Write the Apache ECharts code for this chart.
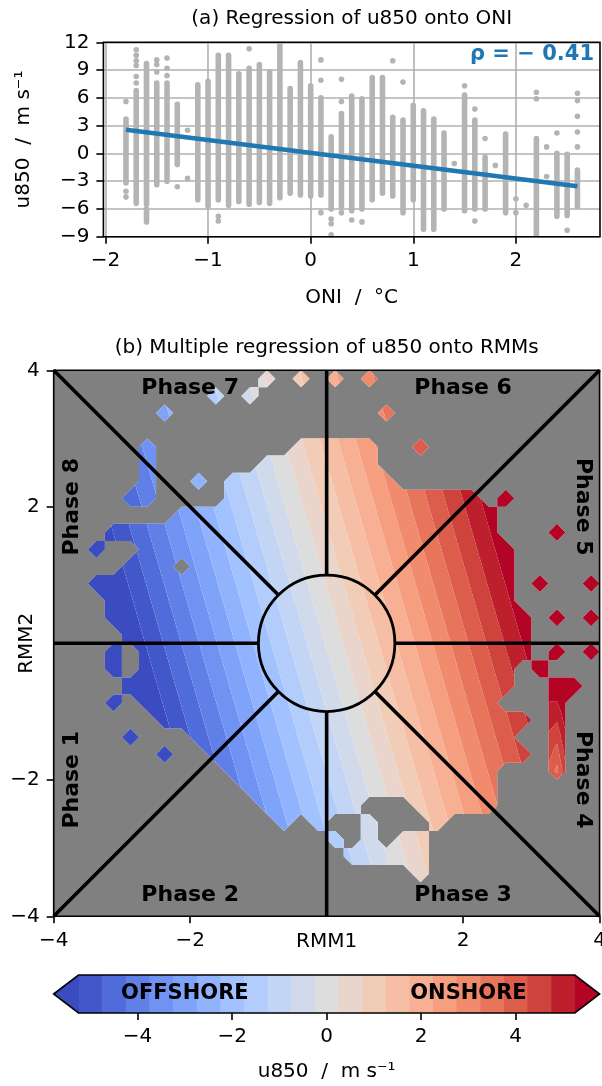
<!DOCTYPE html>
<html>
<head>
<meta charset="utf-8">
<title>u850 regressions</title>
<script src="https://cdn.jsdelivr.net/npm/echarts@6.0.0/dist/echarts.min.js"></script>
<style>
html, body { margin: 0; padding: 0; background: #fff; }
#main { width: 602px; height: 1086px; }
</style>
</head>
<body>
<div id="main"></div>
<script>
// ---- panel (a): u850 against ONI ----
var oniTicks = [-2, -1, 0, 1, 2];
var uTicks = [-9, -6, -3, 0, 3, 6, 9, 12];
// dense stacks of daily dots: [ONI, lowest u850, highest u850]
var oniStacks = [
    [-1.8, -3.2, 3.7], [-1.7, -5.4, 6.8], [-1.6, -5.5, 9.7], [-1.6, -7.4, -6.0],
    [-1.5, -3.4, 7.6], [-1.4, -3.0, 7.6], [-1.3, -1.2, 5.3], [-1.1, -5.0, 7.4],
    [-1.0, -5.7, 7.8], [-0.9, -5.0, 10.6], [-0.8, -5.6, 10.6], [-0.7, -5.2, 8.6],
    [-0.6, -5.5, 9.2], [-0.5, -5.3, 9.6], [-0.4, -5.4, 8.8], [-0.3, -4.8, 11.9],
    [-0.2, -4.3, 7.0], [-0.1, -4.5, 9.8], [0.0, -4.6, 7.3], [0.1, -4.5, 6.0],
    [0.2, -6.0, 1.8], [0.3, -5.8, 4.3], [0.4, -6.2, 6.2], [0.5, -6.0, 5.9],
    [0.6, -5.0, 8.2], [0.7, -4.3, 8.2], [0.8, -4.6, 3.9], [0.9, -6.4, 3.6],
    [1.0, -5.0, 5.2], [1.1, -8.2, 4.6], [1.2, -8.2, 3.7], [1.3, -6.0, 2.2],
    [1.5, -6.2, 6.3], [1.6, -6.0, 3.6], [1.7, -6.0, -0.4], [1.9, -6.4, 2.1],
    [2.2, -8.8, 1.6], [2.4, -6.8, 0.0], [2.5, -6.7, -0.1], [2.6, -5.7, -1.8]
];
// single dots away from the stacks: [ONI, u850]
var oniDots = [
    [-1.8, 5.6], [-1.8, -4.1], [-1.8, -4.7],
    [-1.7, 11.2], [-1.7, 10.6], [-1.7, 10.0], [-1.7, 9.5], [-1.7, 8.3], [-1.7, 7.6],
    [-1.5, 10.1], [-1.5, 9.6], [-1.5, 8.8], [-1.4, 10.3], [-1.4, 9.2], [-1.4, 8.4],
    [-1.3, -3.6], [-1.2, 2.5], [-1.2, -2.7], [-0.9, -6.8], [-0.9, -7.3], [-0.6, 11.3],
    [0.1, 10.1], [0.1, 7.9], [0.1, -6.4], [0.2, -7.1], [0.2, -7.6], [0.2, -8.8],
    [0.3, 8.0], [0.3, 5.6], [0.3, -6.4], [0.4, -7.2], [0.5, -7.4], [0.8, 10.0],
    [0.9, 7.7], [1.4, -1.1], [1.5, 7.3], [1.6, 4.8], [1.6, -7.3], [1.7, 1.6],
    [1.8, -1.3], [2.0, -4.9], [2.0, -6.4], [2.1, -5.6], [2.2, 6.6], [2.2, 5.9],
    [2.3, 0.7], [2.3, -2.5], [2.4, 2.2], [2.5, -8.3],
    [2.6, 6.5], [2.6, 5.7], [2.6, 4.0], [2.6, 2.3], [2.6, 0.7]
];
var oniFit = [[-1.8, 2.55], [2.6, -3.55]];
var oniRho = '\u03c1 = \u2212 0.41';

// ---- panel (b): u850 on the RMM phase space ----
var rmmTicks = [-4, -2, 2, 4];
var rmmCoef = [-0.2, 1.9, 0.55];       // intercept, RMM1, RMM2 (m s-1 per unit)
// bins with data, 0.25 wide, top row is RMM2 = 3.875, first column RMM1 = -3.875
var rmmMask = [
    '............#.#.#.#.............',
    '.........#.#....................',
    '......#............#............',
    '................................',
    '.....#........#####..#..........',
    '.....#......#######.............',
    '.....#..#.##########............',
    '....##....###############.#.....',
    '.......###################......',
    '...#######################...#..',
    '..#..######################.....',
    '....###.###################.....',
    '..#########################.#..#',
    '...########################.....',
    '...#########################.#.#',
    '....########################....',
    '...#.#######################.#.#',
    '...#.######################.#...',
    '....#######################..##.',
    '...#.#####################...#..',
    '......######################.#..',
    '....#...###################..#..',
    '......#..###################.#..',
    '..........################...#..',
    '...........###############......',
    '............######...#####......',
    '.............#.#..#...#.........',
    '................#.#.##..........',
    '.................#####..........',
    '.....................#..........',
    '................................',
    '................................'
];
// bins that depart from the plane: [column, row, u850]
var rmmFix = [[29, 18, 5.8], [30, 18, 6.0], [29, 19, 5.2], [29, 20, 4.8],
    [29, 21, 4.4], [29, 22, 4.0], [29, 23, 3.6]];
var u850Levels = [-5.25, -4.75, -4.25, -3.75, -3.25, -2.75, -2.25, -1.75, -1.25, -0.75, -0.25,
    0.25, 0.75, 1.25, 1.75, 2.25, 2.75, 3.25, 3.75, 4.25, 4.75, 5.25];
var cbarTicks = [-4, -2, 0, 2, 4];
var cbarWords = [[-3, 'OFFSHORE'], [3, 'ONSHORE']];
var phaseSpokes = [0, 45, 90, 135, 180, 225, 270, 315];
var phaseLabels = [
    [-2.0, 3.74, 'Phase 7', 0], [2.0, 3.74, 'Phase 6', 0],
    [-2.0, -3.69, 'Phase 2', 0], [2.0, -3.69, 'Phase 3', 0],
    [-3.73, 2.0, 'Phase 8', 90], [-3.73, -2.0, 'Phase 1', 90],
    [3.75, 2.0, 'Phase 5', -90], [3.75, -2.0, 'Phase 4', -90]
];

var FONT = 'DejaVu Sans';
var DOT = '#b4b4b4';

var coolwarmStops = [
    [59, 76, 192], [68, 90, 204], [77, 104, 215], [87, 117, 225], [98, 130, 234], [108, 142, 241],
    [119, 154, 247], [130, 165, 251], [141, 176, 254], [152, 185, 255], [163, 194, 255],
    [174, 201, 253], [184, 208, 249], [194, 213, 244], [204, 217, 238], [213, 219, 230],
    [221, 221, 221], [229, 216, 209], [236, 211, 197], [241, 204, 184], [245, 196, 172],
    [247, 187, 160], [247, 177, 148], [247, 166, 135], [244, 154, 123], [241, 141, 111],
    [236, 127, 99], [229, 112, 88], [222, 96, 77], [213, 80, 66], [203, 62, 56],
    [192, 40, 47], [180, 4, 38]
];

function coolwarm(t) {
    t = Math.max(0, Math.min(1, t));
    var f = t * 32, j = Math.min(31, Math.floor(f)), w = f - j;
    var a = coolwarmStops[j], b = coolwarmStops[j + 1];
    var c = [0, 1, 2].map(function (q) { return Math.round(a[q] + (b[q] - a[q]) * w); });
    return 'rgb(' + c.join(',') + ')';
}

// band 0 is below the first level, band n above the last
function bandColor(b) {
    var L = u850Levels, n = L.length;
    if (b <= 0) return coolwarm(0);
    if (b >= n) return coolwarm(1);
    var mid = (L[b - 1] + L[b]) / 2;
    return coolwarm((mid - L[0]) / (L[n - 1] - L[0]));
}

function minus(v) {
    return v < 0 ? '\u2212' + Math.abs(v) : String(v);
}

// keep the part of a polygon where f(vertex) >= 0 (all vertex fields are linear)
function clip(poly, f) {
    var out = [];
    for (var q = 0; q < poly.length; q++) {
        var p = poly[q], r = poly[(q + 1) % poly.length];
        var fp = f(p), fr = f(r);
        if (fp >= 0) out.push(p);
        if ((fp >= 0) !== (fr >= 0)) {
            var t = fp / (fp - fr);
            out.push(p.map(function (x, j) { return x + (r[j] - x) * t; }));
        }
    }
    return out;
}

function renderField(params, api) {
    var n = rmmMask.length, step = 8 / n;
    var L = u850Levels, nb = L.length + 1;
    var fix = {};
    rmmFix.forEach(function (f) { fix[f[0] + ',' + f[1]] = f[2]; });

    function node(i, k) {
        var r1 = -4 + step * (i + 0.5), r2 = 4 - step * (k + 0.5);
        var ok = i >= 0 && i < n && k >= 0 && k < n && rmmMask[k].charAt(i) === '#';
        var key = i + ',' + k;
        var v = (key in fix) ? fix[key] : rmmCoef[0] + rmmCoef[1] * r1 + rmmCoef[2] * r2;
        return [r1, r2, v, ok ? 1 : 0];
    }
    function toPath(poly) {
        var s = '';
        for (var q = 0; q < poly.length; q++) {
            var p = api.coord([poly[q][0], poly[q][1]]);
            s += (q ? 'L' : 'M') + p[0].toFixed(2) + ' ' + p[1].toFixed(2);
        }
        return s + 'Z';
    }
    function bandOf(v) {
        var b = 0;
        while (b < L.length && v >= L[b]) b++;
        return b;
    }

    var paths = [], under = '';
    for (var b = 0; b < nb; b++) paths.push('');

    for (var k = -1; k < n; k++) {
        for (var i = -1; i < n; i++) {
            var a = node(i, k), bb = node(i + 1, k), c = node(i + 1, k + 1), d = node(i, k + 1);
            var cnt = a[3] + bb[3] + c[3] + d[3];
            if (cnt === 0) continue;
            var e = [0, 1, 2].map(function (t) { return (a[t] + bb[t] + c[t] + d[t]) / 4; });
            // centre weight that gives marching-squares diamonds for lone bins
            e.push(Math.max(0, Math.min(1, (cnt - 1) / 2)));
            var edge = i === -1 || k === -1 || i === n - 1 || k === n - 1;
            [[a, bb], [bb, c], [c, d], [d, a]].forEach(function (pr) {
                var poly = clip([pr[0], pr[1], e], function (p) { return p[3] - 0.5; });
                if (poly.length < 3) return;
                if (edge) {
                    poly = clip(poly, function (p) { return p[0] + 4; });
                    poly = clip(poly, function (p) { return 4 - p[0]; });
                    poly = clip(poly, function (p) { return p[1] + 4; });
                    poly = clip(poly, function (p) { return 4 - p[1]; });
                    if (poly.length < 3) return;
                }
                under += toPath(poly);
                var vs = poly.map(function (p) { return p[2]; });
                var b0 = bandOf(Math.min.apply(null, vs)), b1 = bandOf(Math.max.apply(null, vs));
                for (var m = b0; m <= b1; m++) {
                    var piece = poly;
                    if (m > 0) piece = clip(piece, function (p) { return p[2] - L[m - 1]; });
                    if (m < nb - 1 && piece.length >= 3) piece = clip(piece, function (p) { return L[m] - p[2]; });
                    if (piece.length >= 3) paths[m] += toPath(piece);
                }
            });
        }
    }

    var kids = [];
    if (under) kids.push({ type: 'path', shape: { pathData: under }, style: { fill: '#ffffff' } });
    paths.forEach(function (s, m) {
        if (s) kids.push({ type: 'path', shape: { pathData: s }, style: { fill: bandColor(m) } });
    });
    return { type: 'group', children: kids };
}

function renderPhase(params, api) {
    var c = api.coord([0, 0]);
    var unit = api.size([1, 1]);
    var kids = [];
    phaseSpokes.forEach(function (deg) {
        var t = deg * Math.PI / 180, cx = Math.cos(t), sy = Math.sin(t);
        var far = 4 / Math.max(Math.abs(cx), Math.abs(sy));
        var p0 = api.coord([cx, sy]), p1 = api.coord([cx * far, sy * far]);
        kids.push({
            type: 'line',
            shape: { x1: p0[0], y1: p0[1], x2: p1[0], y2: p1[1] },
            style: { stroke: '#000', lineWidth: 3.6 }
        });
    });
    kids.push({
        type: 'circle',
        shape: { cx: c[0], cy: c[1], r: unit[0] },
        style: { fill: 'none', stroke: '#000', lineWidth: 2.8 }
    });
    var tl = api.coord([-4, 4]), br = api.coord([4, -4]);
    kids.push({
        type: 'rect',
        shape: { x: tl[0], y: tl[1], width: br[0] - tl[0], height: br[1] - tl[1] },
        style: { fill: 'none', stroke: '#000', lineWidth: 1.6 }
    });
    return { type: 'group', children: kids };
}

function renderPhaseLabel(params, api) {
    var item = phaseLabels[params.dataIndex];
    var p = api.coord([item[0], item[1]]);
    return {
        type: 'text',
        x: p[0], y: p[1],
        rotation: item[3] * Math.PI / 180,
        style: {
            text: item[2], fill: '#000', fontSize: 22, fontWeight: 'bold', fontFamily: FONT,
            align: 'center', verticalAlign: 'middle'
        }
    };
}

function renderStack(params, api) {
    var p0 = api.coord([api.value(0), api.value(1)]);
    var p1 = api.coord([api.value(0), api.value(2)]);
    return {
        type: 'line',
        shape: { x1: p0[0], y1: p0[1], x2: p1[0], y2: p1[1] },
        style: { stroke: DOT, lineWidth: 5.6, lineCap: 'round' }
    };
}

function renderFrameA(params, api) {
    var tl = api.coord([-2.02, 12]), br = api.coord([2.82, -9]);
    return {
        type: 'rect',
        shape: { x: tl[0], y: tl[1], width: br[0] - tl[0], height: br[1] - tl[1] },
        style: { fill: 'none', stroke: '#000', lineWidth: 1.6 }
    };
}

function renderCbar(params, api) {
    var L = u850Levels, n = L.length;
    var y0 = api.coord([0, 1])[1], y1 = api.coord([0, 0])[1], ym = (y0 + y1) / 2;
    var ext = (L[n - 1] - L[0]) * 0.05;
    var kids = [];
    for (var b = 1; b < n; b++) {
        var xa = api.coord([L[b - 1], 0])[0], xb = api.coord([L[b], 0])[0];
        kids.push({
            type: 'rect',
            shape: { x: xa, y: y0, width: xb - xa + (b < n - 1 ? 0.6 : 0), height: y1 - y0 },
            style: { fill: bandColor(b) }
        });
    }
    var xl = api.coord([L[0], 0])[0], xr = api.coord([L[n - 1], 0])[0];
    var tl = api.coord([L[0] - ext, 0])[0], tr = api.coord([L[n - 1] + ext, 0])[0];
    kids.push({ type: 'polygon', shape: { points: [[xl + 0.5, y0], [xl + 0.5, y1], [tl, ym]] }, style: { fill: bandColor(0) } });
    kids.push({ type: 'polygon', shape: { points: [[xr - 0.5, y0], [xr - 0.5, y1], [tr, ym]] }, style: { fill: bandColor(n) } });
    kids.push({
        type: 'polygon',
        shape: { points: [[tl, ym], [xl, y0], [xr, y0], [tr, ym], [xr, y1], [xl, y1]] },
        style: { fill: 'none', stroke: '#000', lineWidth: 1.6 }
    });
    cbarWords.forEach(function (w) {
        kids.push({
            type: 'text',
            x: api.coord([w[0], 0])[0], y: ym,
            style: {
                text: w[1], fill: '#000', fontSize: 21, fontWeight: 'bold', fontFamily: FONT,
                align: 'center', verticalAlign: 'middle'
            }
        });
    });
    return { type: 'group', children: kids };
}

var labelStyle = { color: '#000', fontSize: 20, fontFamily: FONT };
var tickStyle = { show: true, inside: false, length: 7, lineStyle: { color: '#000', width: 1.6 } };
var noLine = { show: false, onZero: false };

var myChart = echarts.init(document.getElementById('main'), null, { renderer: 'canvas' });

option = {
    animation: false,
    backgroundColor: '#fff',
    graphic: [
        { type: 'text', x: 351.7, y: 19, style: { text: '(a) Regression of u850 onto ONI', fill: '#000', fontSize: 20, fontFamily: FONT, align: 'center', verticalAlign: 'middle' } },
        { type: 'text', x: 594, y: 55, style: { text: oniRho, fill: '#1f77b4', fontSize: 21, fontWeight: 'bold', fontFamily: FONT, align: 'right', verticalAlign: 'middle' } },
        { type: 'text', x: 326.7, y: 348, style: { text: '(b) Multiple regression of u850 onto RMMs', fill: '#000', fontSize: 20, fontFamily: FONT, align: 'center', verticalAlign: 'middle' } }
    ],
    grid: [
        { left: 103.4, top: 42.3, width: 496.6, height: 194.4, show: true, borderWidth: 0, backgroundColor: '#fff', containLabel: false, outerBoundsMode: 'none' },
        { left: 53.7, top: 370.3, width: 545.9, height: 546, show: true, borderWidth: 0, backgroundColor: '#808080', containLabel: false, outerBoundsMode: 'none' },
        { left: 78.5, top: 975, width: 496.3, height: 38, show: false, containLabel: false, outerBoundsMode: 'none' }
    ],
    xAxis: [
        {
            gridIndex: 0, type: 'value', min: -2.02, max: 2.82,
            axisLine: noLine,
            axisTick: Object.assign({ customValues: oniTicks }, tickStyle),
            axisLabel: Object.assign({ customValues: oniTicks, margin: 14, formatter: minus }, labelStyle),
            splitLine: { show: true, lineStyle: { color: '#b0b0b0', width: 1.6 } },
            name: 'ONI  /  \u00b0C', nameLocation: 'middle', nameGap: 51, nameMoveOverlap: false, nameTextStyle: labelStyle
        },
        {
            gridIndex: 1, type: 'value', min: -4, max: 4,
            axisLine: noLine,
            axisTick: Object.assign({ customValues: rmmTicks }, tickStyle),
            axisLabel: Object.assign({ customValues: rmmTicks, margin: 14, formatter: minus }, labelStyle),
            splitLine: { show: false },
            name: 'RMM1', nameLocation: 'middle', nameGap: 15, nameMoveOverlap: false, nameTextStyle: labelStyle
        },
        {
            gridIndex: 2, type: 'value', min: -5.25, max: 5.25,
            axisLine: noLine,
            axisTick: Object.assign({ customValues: cbarTicks }, tickStyle),
            axisLabel: Object.assign({ customValues: cbarTicks, margin: 14, formatter: minus }, labelStyle),
            splitLine: { show: false },
            name: 'u850  /  m s\u207b\u00b9', nameLocation: 'middle', nameGap: 49, nameMoveOverlap: false, nameTextStyle: labelStyle
        }
    ],
    yAxis: [
        {
            gridIndex: 0, type: 'value', min: -9, max: 12, interval: 3,
            axisLine: noLine,
            axisTick: Object.assign({ customValues: uTicks }, tickStyle),
            axisLabel: Object.assign({ customValues: uTicks, margin: 14, formatter: minus }, labelStyle),
            splitLine: { show: true, lineStyle: { color: '#b0b0b0', width: 1.6 } },
            name: 'u850  /  m s\u207b\u00b9', nameLocation: 'middle', nameGap: 70, nameRotate: 90, nameMoveOverlap: false, nameTextStyle: labelStyle
        },
        {
            gridIndex: 1, type: 'value', min: -4, max: 4,
            axisLine: noLine,
            axisTick: Object.assign({ customValues: rmmTicks }, tickStyle),
            axisLabel: Object.assign({ customValues: rmmTicks, margin: 14, formatter: minus }, labelStyle),
            splitLine: { show: false },
            name: 'RMM2', nameLocation: 'middle', nameGap: 17, nameRotate: 90, nameMoveOverlap: false, nameTextStyle: labelStyle
        },
        { gridIndex: 2, type: 'value', min: 0, max: 1, show: false }
    ],
    series: [
        {
            type: 'custom', name: 'stacks', xAxisIndex: 0, yAxisIndex: 0, silent: true, z: 2,
            clip: true, encode: { x: 0, y: [1, 2] }, data: oniStacks, renderItem: renderStack
        },
        {
            type: 'scatter', name: 'dots', xAxisIndex: 0, yAxisIndex: 0, silent: true, z: 2,
            symbolSize: 5.6, itemStyle: { color: DOT, opacity: 1 }, data: oniDots
        },
        {
            type: 'line', name: 'fit', xAxisIndex: 0, yAxisIndex: 0, silent: true, z: 5,
            symbol: 'none', lineStyle: { color: '#1f77b4', width: 4.5 }, data: oniFit
        },
        {
            type: 'custom', name: 'frameA', xAxisIndex: 0, yAxisIndex: 0, silent: true, z: 6,
            data: [[0, 0]], renderItem: renderFrameA
        },
        {
            type: 'custom', name: 'field', xAxisIndex: 1, yAxisIndex: 1, silent: true, z: 2,
            data: [[0, 0]], renderItem: renderField
        },
        {
            type: 'custom', name: 'phases', xAxisIndex: 1, yAxisIndex: 1, silent: true, z: 4,
            data: [[0, 0]], renderItem: renderPhase
        },
        {
            type: 'custom', name: 'phaseLabels', xAxisIndex: 1, yAxisIndex: 1, silent: true, z: 5,
            data: phaseLabels.map(function (p) { return [p[0], p[1]]; }), renderItem: renderPhaseLabel
        },
        {
            type: 'custom', name: 'colorbar', xAxisIndex: 2, yAxisIndex: 2, silent: true, z: 3,
            data: [[0, 0.5]], renderItem: renderCbar
        }
    ]
};
myChart.setOption(option);
</script>
</body>
</html>
